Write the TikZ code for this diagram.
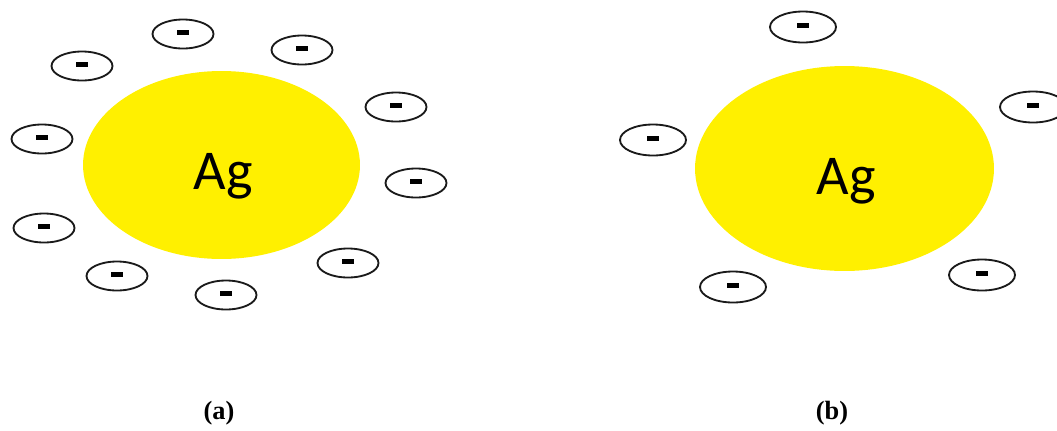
\documentclass[tikz,border=0pt]{standalone}
\usepackage{fontspec}
\setmainfont{Liberation Serif}
\newfontfamily\agfont{Carlito}
\usetikzlibrary{shapes.geometric}
\definecolor{ink}{HTML}{1A1A1A}
\definecolor{agyellow}{HTML}{FFF000}

\begin{document}
\begin{tikzpicture}[
    x=0.02cm, y=-0.02cm,
    core/.style={ellipse, fill=agyellow, inner sep=0pt},
    symbol/.style={font=\agfont\fontsize{32}{32}\selectfont, text=black, anchor=base},
    electron/.style={ellipse, draw=ink, line width=1.05pt, fill=white, inner sep=0pt,
        minimum width=1.22cm, minimum height=0.58cm},
    bigelectron/.style={electron, minimum width=1.32cm, minimum height=0.62cm},
    caption/.style={font=\bfseries\fontsize{15}{15}\selectfont, anchor=base}
]
\useasboundingbox (0,0) rectangle (1057,430);
\def\minus{\raisebox{0.08cm}{\rule{0.24cm}{0.1cm}}}

% (a) silver core with a full shell of electrons.
\node[core, minimum width=5.54cm, minimum height=3.76cm] (coreA) at (221.5,165) {};
\node[symbol] (agA) at (223,189) {Ag};
\foreach \x/\y [count=\i] in {183/34, 302/50, 82/66, 396/107, 42/139,
    416/183, 44/228, 348/263, 117/276, 226/295} {
    \node[electron] (eA\i) at (\x,\y) {\minus};
}

% (b) silver core with only a few electrons left.
\node[core, minimum width=5.98cm, minimum height=4.10cm] (coreB) at (844.5,168.5) {};
\node[symbol] (agB) at (846,194) {Ag};
\foreach \x/\y [count=\i] in {803/27, 1033/107, 653/140, 733/287, 982/275} {
    \node[bigelectron] (eB\i) at (\x,\y) {\minus};
}

\node[caption] (capA) at (219,419) {(a)};
\node[caption] (capB) at (832,419) {(b)};
\end{tikzpicture}
\end{document}
